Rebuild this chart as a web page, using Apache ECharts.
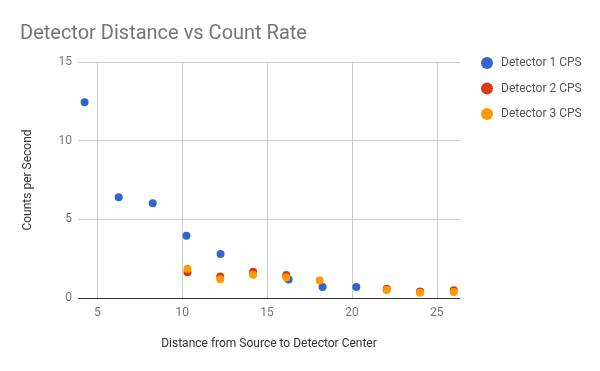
<!DOCTYPE html>
<html><head><meta charset="utf-8">
<script src="https://cdn.jsdelivr.net/npm/echarts@6/dist/echarts.min.js"></script>
<style>html,body{margin:0;padding:0;background:#fff}#c{width:600px;height:371px}</style>
</head><body><div id="c"></div>
<script>
const seriesNames = ['Detector 1 CPS', 'Detector 2 CPS', 'Detector 3 CPS'];
const det1X = [4.25, 6.26, 8.26, 10.25, 12.26, 16.27, 18.27, 20.26];
const det1Y = [12.44, 6.40, 6.02, 3.96, 2.80, 1.17, 0.70, 0.70];
const det2X = [10.31, 12.24, 14.18, 16.13, 22.05, 24.02, 26.0];
const det2Y = [1.63, 1.36, 1.67, 1.46, 0.59, 0.42, 0.49];
const det3X = [10.31, 12.24, 14.18, 16.13, 18.10, 22.05, 24.02, 26.0];
const det3Y = [1.86, 1.19, 1.48, 1.31, 1.12, 0.51, 0.34, 0.38];
const yTicks = [0, 5, 10, 15];
const colors = ['#3366cc', '#dc3912', '#ff9900'];

const zip = (xs, ys) => xs.map((x, i) => [x, ys[i]]);
const chart = echarts.init(document.getElementById('c'));
const font = 'Roboto, Arial, sans-serif';
const dot = { opacity: 1 };
chart.setOption({
  animation: false,
  color: colors,
  textStyle: { fontFamily: font },
  title: {
    text: 'Detector Distance vs Count Rate',
    left: 15, top: 19,
    textStyle: { fontSize: 20, fontWeight: 'normal', color: '#757575', fontFamily: font }
  },
  legend: {
    orient: 'vertical', left: 476, top: 52,
    itemWidth: 18, itemHeight: 12, itemGap: 13.5,
    icon: 'circle',
    textStyle: { fontSize: 12, color: '#555', fontFamily: font },
    data: seriesNames
  },
  grid: { left: 78, right: 140, top: 62, bottom: 73, containLabel: false },
  xAxis: {
    type: 'value', min: 3.86, max: 26.37,
    name: 'Distance from Source to Detector Center',
    nameLocation: 'middle', nameGap: 40,
    nameTextStyle: { fontSize: 12, color: '#333', fontFamily: font },
    axisLine: { show: false },
    axisTick: { show: false },
    axisLabel: { fontSize: 12, color: '#757575', margin: 9, showMinLabel: false, showMaxLabel: false },
    splitLine: { show: true, showMinLine: false, showMaxLine: false, lineStyle: { color: '#cccccc' } }
  },
  yAxis: {
    type: 'value', min: yTicks[0], max: yTicks[yTicks.length - 1], interval: 5,
    name: 'Counts per Second',
    nameLocation: 'middle', nameGap: 44,
    nameTextStyle: { fontSize: 12, color: '#333', fontFamily: font },
    axisLine: { show: false },
    axisTick: { show: false },
    axisLabel: { fontSize: 12, color: '#757575', margin: 6 },
    splitLine: { show: true, lineStyle: { color: '#cccccc' } }
  },
  series: [
    { name: seriesNames[0], type: 'scatter', symbolSize: 8, itemStyle: dot, data: zip(det1X, det1Y),
      markLine: { silent: true, symbol: 'none', label: { show: false },
        lineStyle: { color: '#333', type: 'solid', width: 1 }, data: [{ yAxis: 0 }] } },
    { name: seriesNames[1], type: 'scatter', symbolSize: 8, itemStyle: dot, data: zip(det2X, det2Y) },
    { name: seriesNames[2], type: 'scatter', symbolSize: 8, itemStyle: dot, data: zip(det3X, det3Y) }
  ]
});
</script></body></html>
